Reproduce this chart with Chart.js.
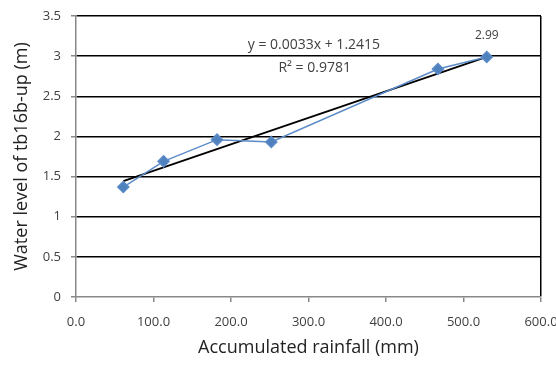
<!DOCTYPE html>
<html>
<head>
<meta charset="utf-8">
<script src="https://cdn.jsdelivr.net/npm/chart.js@4/dist/chart.umd.min.js"></script>
<style>
  html, body { margin: 0; padding: 0; background: #fff; }
  #wrap { width: 556px; height: 370px; }
</style>
</head>
<body>
<div id="wrap"><canvas id="chart" width="556" height="370"></canvas></div>
<script>
// rainfall (mm) vs water level (m)
const rainfall = [61, 113, 182, 252, 467, 530];
const waterLevel = [1.37, 1.69, 1.96, 1.93, 2.84, 2.99];

const slope = 0.0033;
const intercept = 1.2415;
const equationText = 'y = 0.0033x + 1.2415';
const r2Text = 'R² = 0.9781';
const lastLabel = '2.99';

const xTicks = [0, 100, 200, 300, 400, 500, 600];
const yTicks = [0, 0.5, 1, 1.5, 2, 2.5, 3, 3.5];

let points = rainfall.map((x, i) => ({ x: x, y: waterLevel[i] }));
let xMin = Math.min(...rainfall), xMax = Math.max(...rainfall);
let trend = [
    { x: xMin, y: slope * xMin + intercept },
    { x: xMax, y: slope * xMax + intercept }
];

const textPlugin = {
    id: 'textPlugin',
    afterDatasetsDraw(chart) {
        let ctx = chart.ctx;
        let xs = chart.scales.x, ys = chart.scales.y;
        ctx.save();
        ctx.fillStyle = '#404040';
        ctx.font = '14px "Open Sans", sans-serif';
        ctx.textAlign = 'center';
        ctx.textBaseline = 'middle';
        ctx.fillText(equationText, xs.getPixelForValue(307), ys.getPixelForValue(3.14));
        ctx.fillText(r2Text, xs.getPixelForValue(308), ys.getPixelForValue(2.85));
        let last = points[points.length - 1];
        ctx.font = '12px "Open Sans", sans-serif';
        ctx.fillText(lastLabel, xs.getPixelForValue(last.x), ys.getPixelForValue(last.y) - 21);
        ctx.restore();
    }
};

let ctx = document.getElementById('chart').getContext('2d');
new Chart(ctx, {
    type: 'scatter',
    data: {
        datasets: [
            {
                label: 'Water level',
                data: points,
                showLine: true,
                borderColor: '#5B8BC8',
                backgroundColor: '#4F81BD',
                borderWidth: 1.5,
                pointStyle: 'rectRot',
                pointRadius: 5.5,
                pointHoverRadius: 5.5
            },
            {
                label: 'Linear',
                data: trend,
                showLine: true,
                borderColor: '#000000',
                borderWidth: 1.8,
                pointRadius: 0
            }
        ]
    },
    options: {
        responsive: false,
        animation: false,
        layout: { padding: { top: 16, right: 15, left: 0, bottom: 0 } },
        plugins: {
            legend: { display: false },
            tooltip: { enabled: false }
        },
        scales: {
            x: {
                type: 'linear',
                min: 0,
                max: 600,
                afterBuildTicks: axis => { axis.ticks = xTicks.map(v => ({ value: v })); },
                afterFit: axis => {
                    axis.height = 73;
                    axis.paddingLeft = 0;
                    axis.paddingRight = 0;
                },
                ticks: {
                    callback: v => v.toFixed(1),
                    color: '#404040',
                    font: { family: '"Open Sans", sans-serif', size: 13 },
                    padding: 12
                },
                grid: {
                    color: c => c.tick && c.tick.value === 600 ? '#000' : 'rgba(0,0,0,0)',
                    lineWidth: 1.5,
                    tickColor: '#888',
                    tickLength: 5
                },
                border: { color: '#888', width: 1.5 },
                title: {
                    display: true,
                    text: 'Accumulated rainfall (mm)',
                    color: '#222',
                    font: { family: '"Open Sans", sans-serif', size: 18 },
                    padding: { top: 11, bottom: 11 }
                }
            },
            y: {
                min: 0,
                max: 3.5,
                afterBuildTicks: axis => { axis.ticks = yTicks.map(v => ({ value: v })); },
                afterFit: axis => {
                    axis.width = 76;
                    axis.paddingTop = 0;
                    axis.paddingBottom = 0;
                },
                ticks: {
                    callback: v => String(v),
                    color: '#404040',
                    font: { family: '"Open Sans", sans-serif', size: 13 },
                    padding: 10
                },
                grid: {
                    color: c => c.tick && c.tick.value === 0 ? 'rgba(0,0,0,0)' : '#000',
                    lineWidth: 1.5,
                    tickColor: '#888',
                    tickLength: 5
                },
                border: { color: '#888', width: 1.5 },
                title: {
                    display: true,
                    text: 'Water level of tb16b-up (m)',
                    color: '#222',
                    font: { family: '"Open Sans", sans-serif', size: 18 },
                    padding: { top: 11, bottom: 11 }
                }
            }
        }
    },
    plugins: [textPlugin]
});
</script>
</body>
</html>
